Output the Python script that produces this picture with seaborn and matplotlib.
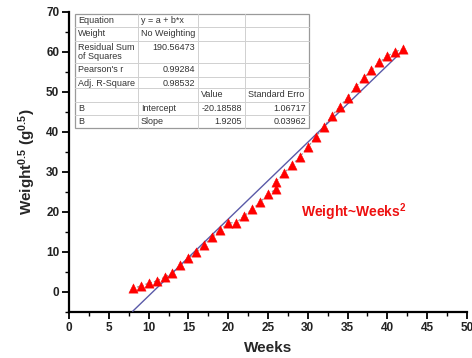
import matplotlib
matplotlib.use("Agg")
import matplotlib.pyplot as plt
from matplotlib.lines import Line2D
from matplotlib.ticker import MultipleLocator
import seaborn as sns
import pandas as pd
import numpy as np

# ---- data ----
weeks = [8, 9, 10, 11, 12, 13, 14, 15, 16, 17, 18, 19, 20, 21, 22, 23, 24, 25,
         26, 26, 27, 28, 29, 30, 31, 32, 33, 34, 35, 36, 37, 38, 39, 40, 41, 42]
sqrt_weight = [0.9, 1.5, 2.2, 2.75, 3.7, 4.8, 6.8, 8.4, 10.0, 11.8, 13.8, 15.5,
               17.3, 17.3, 19.0, 20.7, 22.4, 24.5, 25.7, 27.6, 29.7, 31.7, 33.8,
               36.2, 38.8, 41.2, 44.0, 46.3, 48.6, 51.2, 53.4, 55.5, 57.4, 59.0,
               60.1, 60.75]
intercept = -20.18588
slope = 1.9205

x_ticks = [0, 5, 10, 15, 20, 25, 30, 35, 40, 45, 50]
y_ticks = [0, 10, 20, 30, 40, 50, 60, 70]

table_rows = [
    ["Equation", "y = a + b*x", "", ""],
    ["Weight", "No Weighting", "", ""],
    ["Residual Sum\nof Squares", "190.56473", "", ""],
    ["Pearson's r", "0.99284", "", ""],
    ["Adj. R-Square", "0.98532", "", ""],
    ["", "", "Value", "Standard Erro"],
    ["B", "Intercept", "-20.18588", "1.06717"],
    ["B", "Slope", "1.9205", "0.03962"],
]
# alignment of each cell: 'l' left or 'r' right
table_align = [
    ["l", "l", "l", "l"],
    ["l", "l", "l", "l"],
    ["l", "r", "l", "l"],
    ["l", "r", "l", "l"],
    ["l", "r", "l", "l"],
    ["l", "l", "l", "l"],
    ["l", "l", "r", "r"],
    ["l", "l", "r", "r"],
]

df = pd.DataFrame({"Weeks": weeks, "W": sqrt_weight})
fit_x = np.array([min(weeks), max(weeks)])
fit_df = pd.DataFrame({"Weeks": fit_x, "W": intercept + slope * fit_x})

# ---- style ----
sns.set_theme(style="ticks")
plt.rcParams["font.family"] = ["Liberation Sans", "DejaVu Sans"]
plt.rcParams["mathtext.fontset"] = "custom"
plt.rcParams["mathtext.rm"] = "Liberation Sans:bold"
plt.rcParams["mathtext.bf"] = "Liberation Sans:bold"
plt.rcParams["mathtext.default"] = "bf"

W, H = 472, 358
fig = plt.figure(figsize=(W / 100, H / 100), dpi=100)
fig.patch.set_facecolor("white")
ax = fig.add_axes([69 / W, 1 - 312 / H, (467 - 69) / W, (312 - 12) / H])
ax.set_facecolor("white")

# connecting dotted line
ax.plot(df["Weeks"], df["W"], linestyle=(0, (2, 2)), color="#909090", lw=0.8, zorder=2)
# fitted line
sns.lineplot(data=fit_df, x="Weeks", y="W", ax=ax, color="#5a5aa8", lw=1.0, zorder=3)
# points
sns.scatterplot(data=df, x="Weeks", y="W", ax=ax, marker="^", color="#ff0000",
                s=45, edgecolor="#ff0000", linewidth=0.3, zorder=4)

ax.set_xlim(0, 50)
ax.set_ylim(-5, 70)
ax.set_xticks(x_ticks)
ax.set_yticks(y_ticks)
ax.xaxis.set_minor_locator(MultipleLocator(2.5))
ax.yaxis.set_minor_locator(MultipleLocator(5))
for s in ["top", "right"]:
    ax.spines[s].set_visible(False)
for s in ["left", "bottom"]:
    ax.spines[s].set_linewidth(1.6)
    ax.spines[s].set_color("black")
ax.tick_params(which="major", direction="out", length=5, width=1.3, color="black",
               labelsize=8.5, pad=2)
ax.tick_params(which="minor", direction="out", length=3, width=1.0, color="black")
for lab in ax.get_xticklabels() + ax.get_yticklabels():
    lab.set_fontweight("bold")
    lab.set_color("#222222")

ax.set_xlabel("Weeks", fontsize=11, fontweight="bold", labelpad=5)
ax.set_ylabel(r"Weight$^{0.5}$ (g$^{0.5}$)", fontsize=11, fontweight="bold", labelpad=6)

ax.text(355, 212, r"Weight~Weeks$^{2}$", transform=None, fontsize=10, color="#ee1111",
        fontweight="bold", ha="center", va="center")
# place text in pixel coordinates -> convert to figure fraction
ax.texts[-1].remove()
fig.text(354 / W, 1 - 212 / H, r"Weight~Weeks$^{2}$", fontsize=10, color="#ee1111",
         fontweight="bold", ha="center", va="center")

# ---- table (pixel layout) ----
col_edges = [75, 138, 198, 245, 309]
row_edges = [14, 27.3, 40.7, 63.3, 76.7, 88.3, 101.7, 115, 127.7]

def fx(px):
    return px / W

def fy(py):
    return 1 - py / H

fig.patches.append(plt.Rectangle((fx(col_edges[0]), fy(row_edges[-1])),
                                 fx(col_edges[-1]) - fx(col_edges[0]),
                                 fy(row_edges[0]) - fy(row_edges[-1]),
                                 transform=fig.transFigure, facecolor="white",
                                 edgecolor="#9a9a9a", lw=0.9, zorder=5))
for ry in row_edges[1:-1]:
    fig.add_artist(Line2D([fx(col_edges[0]), fx(col_edges[-1])], [fy(ry), fy(ry)],
                          color="#d0d0d0", lw=0.7, zorder=6))
for cx in col_edges[1:-1]:
    fig.add_artist(Line2D([fx(cx), fx(cx)], [fy(row_edges[0]), fy(row_edges[-1])],
                          color="#d0d0d0", lw=0.7, zorder=6))

for i, row in enumerate(table_rows):
    top = row_edges[i]
    for j, txt in enumerate(row):
        if not txt:
            continue
        al = table_align[i][j]
        if al == "l":
            x = col_edges[j] + 3
            ha = "left"
        else:
            x = col_edges[j + 1] - 3
            ha = "right"
        fig.text(fx(x), fy(top + 2), txt, fontsize=6.5, color="#333333", ha=ha, va="top",
                 linespacing=1.05, zorder=7)

fig.savefig("out.png", dpi=100, facecolor="white")
